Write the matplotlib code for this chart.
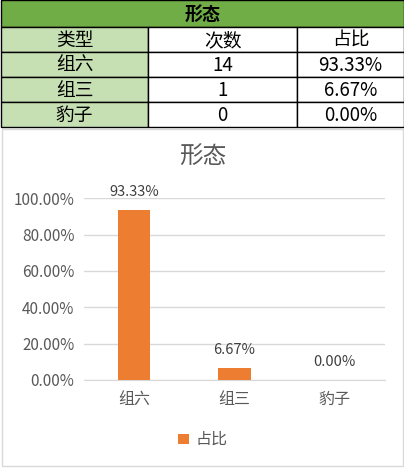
import matplotlib
matplotlib.use('Agg')
import matplotlib.pyplot as plt
from matplotlib.patches import Rectangle

plt.rcParams['font.family'] = ['Noto Sans CJK SC', 'DejaVu Sans']

title = '形态'
columns = ['类型', '次数', '占比']
categories = ['组六', '组三', '豹子']
counts = [14, 1, 0]
ratios = [93.33, 6.67, 0.00]
yticks = [0, 20, 40, 60, 80, 100]

W, H = 404, 470
fig = plt.figure(figsize=(W / 100, H / 100), dpi=100)

# full-figure axes in pixel coordinates for the table and chart frame
bg = fig.add_axes([0, 0, 1, 1])
bg.set_xlim(0, W)
bg.set_ylim(H, 0)
bg.axis('off')

green = '#70AD47'
light = '#C6E0B4'
col_x = [1, 148, 297, 404]
row_y = [0, 27, 52, 77, 102, 127]

# title row
bg.add_patch(Rectangle((col_x[0], row_y[0]), col_x[-1] - col_x[0], row_y[1] - row_y[0],
                       facecolor=green, edgecolor='black', lw=1))
bg.text((col_x[0] + col_x[-1]) / 2, (row_y[0] + row_y[1]) / 2 + 1, title,
        ha='center', va='center', fontsize=13, fontweight='bold', color='black')

rows = [columns] + [[c, str(n), '%.2f%%' % r] for c, n, r in zip(categories, counts, ratios)]
for i, row in enumerate(rows):
    y0, y1 = row_y[i + 1], row_y[i + 2]
    for j, val in enumerate(row):
        x0, x1 = col_x[j], col_x[j + 1]
        fc = light if j == 0 else 'white'
        bg.add_patch(Rectangle((x0, y0), x1 - x0, y1 - y0, facecolor=fc,
                               edgecolor='black', lw=1))
        bg.text((x0 + x1) / 2, (y0 + y1) / 2 + 1, val, ha='center', va='center',
                fontsize=13.5, color='black')

# chart frame
bg.add_patch(Rectangle((1.5, 129), 401, 337, facecolor='white', edgecolor='#D9D9D9', lw=1))
bg.text(203, 157, title, ha='center', va='center', fontsize=17, color='#595959')

# legend
bg.add_patch(Rectangle((178, 434), 11, 10, facecolor='#ED7D31', edgecolor='none'))
bg.text(196, 439, columns[2], ha='left', va='center', fontsize=11.5, color='#595959')

# bar chart axes
ax_l, ax_r, ax_t, ax_b = 84, 385, 198.3, 380
ax = fig.add_axes([ax_l / W, 1 - ax_b / H, (ax_r - ax_l) / W, (ax_b - ax_t) / H])
x = list(range(len(categories)))
ax.bar(x, ratios, width=0.32, color='#ED7D31', zorder=3)
ax.set_xlim(-0.5, len(categories) - 0.5)
ax.set_ylim(0, 100)
ax.set_yticks(yticks)
ax.set_yticklabels(['%.2f%%' % t for t in yticks], fontsize=11, color='#595959')
ax.set_xticks(x)
ax.set_xticklabels(categories, fontsize=11.5, color='#595959')
ax.tick_params(axis='y', length=0, pad=7)
ax.tick_params(axis='x', length=0, pad=8)
ax.grid(axis='y', color='#D9D9D9', lw=1, zorder=0)
for s in ['top', 'left', 'right']:
    ax.spines[s].set_visible(False)
ax.spines['bottom'].set_color('#D9D9D9')
ax.patch.set_alpha(0)
for xi, r in zip(x, ratios):
    ax.annotate('%.2f%%' % r, (xi, r), xytext=(0, 8), textcoords='offset points',
                ha='center', va='bottom', fontsize=10.5, color='#404040')

fig.savefig('out.png', dpi=100)
